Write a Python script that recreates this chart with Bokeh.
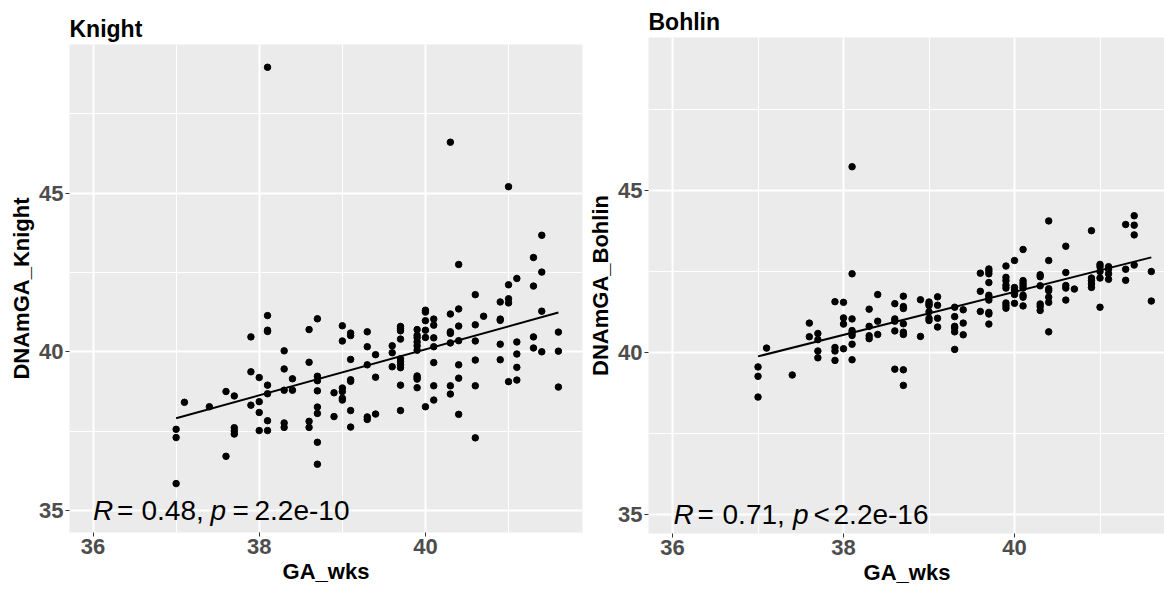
import numpy as np
from bokeh.plotting import figure
from bokeh.models import Range1d, FixedTicker
from bokeh.layouts import row, column
from bokeh.embed import file_html
from bokeh.resources import INLINE
from bokeh.core.properties import value

# ---------------- data ----------------
knight_ga = (
    [37.0] * 3 + [37.1] + [37.4] + [37.6] * 2 + [37.7] * 4 + [37.9] * 3 + [38.0] * 4 + [38.1] * 8
    + [38.3] * 5 + [38.4] * 2 + [38.6] * 4 + [38.7] * 8 + [38.9] * 2 + [39.0] * 6 + [39.1] * 7
    + [39.3] * 5 + [39.4] * 3 + [39.6] * 3 + [39.7] * 10 + [39.9] * 10 + [40.0] * 6 + [40.1] * 7
    + [40.3] * 7 + [40.4] * 7 + [40.6] * 6 + [40.7] + [40.9] * 5 + [41.0] * 5 + [41.1] * 5
    + [41.3] * 4 + [41.4] * 4 + [41.6] * 3
)
knight_dnamga = [
    37.56, 37.30, 35.85,
    38.41,
    38.27,
    38.75, 36.71,
    38.61, 37.61, 37.51, 37.41,
    40.47, 39.37, 38.32,
    39.19, 38.43, 38.09, 37.52,
    48.96, 41.14, 40.68, 40.64, 38.95, 38.68, 37.83, 37.52,
    40.03, 39.46, 38.79, 37.76, 37.62,
    39.15, 38.79,
    40.70, 39.67, 37.81, 37.62,
    41.04, 39.23, 39.09, 38.77, 38.26, 38.06, 37.15, 36.46,
    38.71, 37.96,
    40.82, 40.34, 38.86, 38.75, 38.54, 38.48,
    40.59, 40.51, 39.76, 39.12, 39.07, 38.15, 37.63,
    40.63, 40.16, 39.59, 37.95, 37.87,
    39.91, 39.20, 38.04,
    40.19, 39.97, 39.53,
    40.80, 40.73, 40.66, 40.40, 39.78, 39.70, 39.60, 39.50, 38.95, 38.15,
    40.70, 40.52, 40.44, 40.31, 40.19, 40.05, 39.24, 39.19, 39.14, 38.87,
    41.31, 41.25, 40.98, 40.68, 40.45, 38.27,
    41.03, 40.84, 40.44, 40.16, 39.66, 38.93, 38.48,
    46.60, 41.19, 40.63, 40.58, 40.28, 38.93, 38.67,
    42.75, 41.35, 40.81, 40.35, 39.59, 39.17, 38.03,
    41.80, 40.85, 40.34, 39.74, 38.93, 37.29,
    41.12,
    41.57, 41.03, 40.99, 40.24, 39.75,
    45.20, 42.11, 41.67, 41.54, 39.06,
    42.31, 40.31, 39.93, 39.51, 39.11,
    42.97, 42.07, 40.47, 40.12,
    43.67, 42.51, 41.28, 40.00,
    40.62, 40.02, 38.89,
]

bohlin_ga = (
    [37.0] * 3 + [37.1] + [37.4] + [37.6] * 2 + [37.7] * 4 + [37.9] * 4 + [38.0] * 4 + [38.1] * 8
    + [38.3] * 4 + [38.4] * 3 + [38.6] * 5 + [38.7] * 8 + [38.9] * 2 + [39.0] * 6 + [39.1] * 4
    + [39.3] * 6 + [39.4] * 3 + [39.6] * 3 + [39.7] * 10 + [39.9] * 8 + [40.0] * 6 + [40.1] * 8
    + [40.3] * 6 + [40.4] * 7 + [40.6] * 5 + [40.7] + [40.9] * 5 + [41.0] * 5 + [41.1] * 4
    + [41.3] * 3 + [41.4] * 4 + [41.6] * 2
)
bohlin_dnamga = [
    39.56, 39.27, 38.63,
    40.14,
    39.31,
    40.91, 40.49,
    40.59, 40.40, 40.05, 39.84,
    41.57, 40.16, 40.05, 39.76,
    41.55, 41.07, 40.88, 40.12,
    45.73, 42.43, 41.04, 40.68, 40.61, 40.53, 40.26, 39.78,
    41.34, 40.81, 40.52, 40.43,
    41.79, 40.97, 40.56,
    41.51, 41.04, 40.97, 40.67, 39.49,
    41.74, 41.42, 41.36, 40.89, 40.63, 40.56, 39.47, 38.99,
    41.63, 40.50,
    41.56, 41.50, 41.45, 41.26, 41.06, 40.99,
    41.72, 41.46, 41.06, 40.79,
    41.40, 41.11, 40.81, 40.76, 40.64, 40.10,
    41.32, 40.91, 40.55,
    42.45, 41.89, 41.27,
    42.58, 42.51, 42.43, 42.16, 41.77, 41.71, 41.62, 41.24, 41.19, 40.88,
    42.67, 42.32, 42.22, 42.08, 41.99, 41.53, 41.45, 41.37,
    42.84, 42.01, 41.93, 41.86, 41.79, 41.52,
    43.18, 42.22, 42.14, 42.07, 41.99, 41.77, 41.71, 41.44,
    42.40, 42.34, 42.06, 41.50, 41.42, 41.30,
    44.06, 42.84, 41.97, 41.91, 41.71, 41.55, 40.64,
    43.28, 42.47, 42.07, 41.99, 41.62,
    41.96,
    43.76, 42.30, 42.22, 42.12, 42.01,
    42.72, 42.65, 42.50, 42.30, 41.40,
    42.65, 42.57, 42.43, 42.26,
    43.95, 42.57, 42.23,
    44.22, 43.93, 43.63, 42.70,
    42.50, 41.59,
]

panel_titles = ["Knight", "Bohlin"]
y_labels = ["DNAmGA_Knight", "DNAmGA_Bohlin"]
x_label = "GA_wks"
x_ticks = [36, 38, 40]
x_minor = [37, 39, 41]
y_ticks = [35, 40, 45]
y_minor = [37.5, 42.5, 47.5]
stat_label_x = 36
stat_label_y = 35
knight_r, knight_p = "0.48", "2.2e-10"
bohlin_r, bohlin_p = "0.71", "2.2e-16"

FONT = "Liberation Sans"


def make_panel(title, ylab, ga, dnam, xr, yr, fw, fh, bl, br, bt, bb, stat_parts, stat_dy):
    p = figure(
        frame_width=fw, frame_height=fh,
        x_range=Range1d(*xr), y_range=Range1d(*yr),
        output_backend="svg", toolbar_location=None,
        min_border_left=bl, min_border_right=br, min_border_top=bt, min_border_bottom=bb,
    )
    p.background_fill_color = "#EBEBEB"
    p.border_fill_color = "white"
    p.outline_line_color = None

    p.title.text = title
    p.title.text_font = FONT
    p.title.text_font_size = "23px"
    p.title.text_font_style = "bold"
    p.title.text_color = "black"
    p.title.align = "left"
    p.title.standoff = 5
    p.title.offset = 0

    p.xaxis.ticker = FixedTicker(ticks=x_ticks, minor_ticks=x_minor)
    p.yaxis.ticker = FixedTicker(ticks=y_ticks, minor_ticks=y_minor)
    for ax in (p.xaxis[0], p.yaxis[0]):
        ax.axis_line_color = None
        ax.major_tick_line_color = "#333333"
        ax.major_tick_line_width = 1
        ax.major_tick_out = 4
        ax.major_tick_in = 0
        ax.minor_tick_line_color = None
        ax.major_label_text_font = FONT
        ax.major_label_text_font_style = "bold"
        ax.major_label_text_color = "#4D4D4D"
        ax.major_label_text_font_size = "22px"
        ax.axis_label_text_font = FONT
        ax.axis_label_text_font_style = "bold"
        ax.axis_label_text_color = "black"
        ax.axis_label_text_font_size = "22px"
    p.xaxis[0].major_label_standoff = 2
    p.xaxis[0].axis_label_standoff = 2
    p.yaxis[0].major_label_standoff = 2
    p.yaxis[0].axis_label_standoff = 2
    p.xaxis[0].axis_label = x_label
    p.yaxis[0].axis_label = ylab

    for g in (p.xgrid[0], p.ygrid[0]):
        g.grid_line_color = "white"
        g.grid_line_width = 2
        g.minor_grid_line_color = "white"
        g.minor_grid_line_width = 1

    p.scatter(ga, dnam, size=6.5, color="black")

    ga_arr = np.asarray(ga)
    slope, intercept = np.polyfit(ga_arr, np.asarray(dnam), 1)
    xs = [ga_arr.min(), ga_arr.max()]
    p.line(xs, [slope * v + intercept for v in xs], line_color="black", line_width=2)

    for txt, style, dx in stat_parts:
        p.text(x=[stat_label_x], y=[stat_label_y], text=[txt], x_offset=dx, y_offset=stat_dy,
               text_font=value(FONT), text_font_style=style, text_font_size="28px",
               text_color="black", text_baseline="alphabetic", text_align="left")
    return p


left_parts = [
    ("R", "italic", 0), ("=", "normal", 24), (knight_r + ",", "normal", 48.5),
    ("p", "italic", 117.5), ("=", "normal", 139.5), (knight_p, "normal", 161.5),
]
right_parts = [
    ("R", "italic", 1), ("=", "normal", 25), (bohlin_r + ",", "normal", 50),
    ("p", "italic", 120.5), ("<", "normal", 141), (bohlin_p, "normal", 161),
]

p1 = make_panel(panel_titles[0], y_labels[0], knight_ga, knight_dnamga,
                (35.717, 41.890), (34.310, 49.677), 513, 488, 69, 3, 44, 58, left_parts, 0)
p2 = make_panel(panel_titles[1], y_labels[1], bohlin_ga, bohlin_dnamga,
                (35.719, 41.766), (34.424, 49.715), 517, 496, 62, 0, 37, 57, right_parts, 0)

layout = row(column(p1, spacing=0), column(p2, spacing=0), spacing=0)
open("out.html", "w").write(file_html(layout, INLINE))
